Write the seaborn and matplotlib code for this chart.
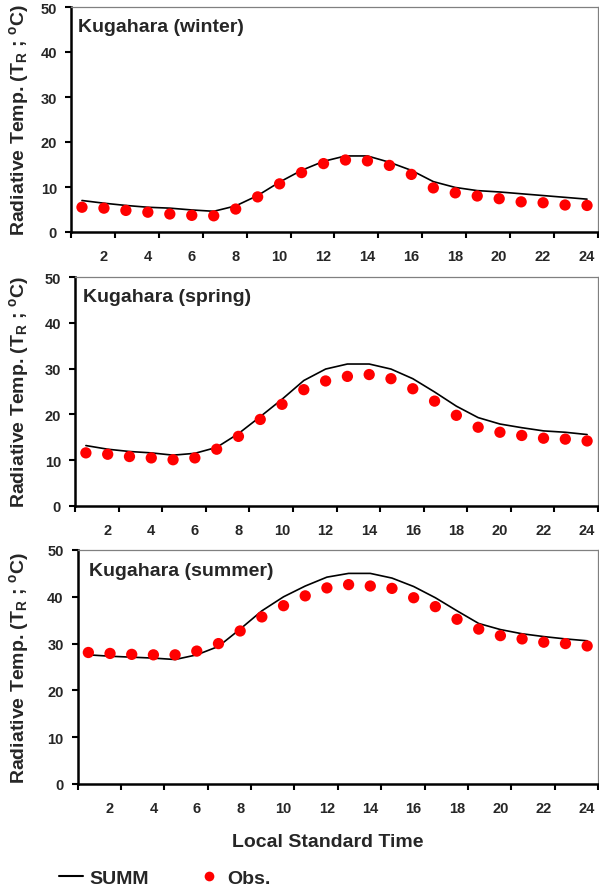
import numpy as np
import pandas as pd
import matplotlib
matplotlib.use("Agg")
import matplotlib.pyplot as plt
import matplotlib.transforms as mtransforms
from matplotlib.lines import Line2D
import seaborn as sns

sns.set_style("white")
plt.rcParams['font.family'] = ['Liberation Sans', 'DejaVu Sans']
plt.rcParams['font.weight'] = 'bold'
plt.rcParams['mathtext.fontset'] = 'custom'
plt.rcParams['mathtext.rm'] = 'Liberation Sans:bold'
plt.rcParams['mathtext.it'] = 'Liberation Sans:bold'
plt.rcParams['mathtext.bf'] = 'Liberation Sans:bold'

hours = list(range(1, 25))

summ_winter = [7.0, 6.4, 5.9, 5.5, 5.3, 4.9, 4.6, 5.8, 8.1, 11.1, 13.7, 15.7,
               16.9, 16.9, 15.5, 13.7, 11.2, 9.9, 9.2, 8.9, 8.5, 8.1, 7.7, 7.3]
obs_winter = [5.5, 5.3, 4.8, 4.4, 4.0, 3.7, 3.6, 5.1, 7.8, 10.7, 13.2, 15.2,
              16.0, 15.8, 14.8, 12.8, 9.8, 8.7, 8.0, 7.4, 6.7, 6.5, 6.0, 5.9]

summ_spring = [13.2, 12.4, 11.9, 11.6, 11.1, 11.5, 12.8, 15.8, 19.5, 23.3, 27.4, 29.9,
               31.0, 31.0, 29.9, 27.8, 24.9, 21.8, 19.3, 17.9, 17.1, 16.4, 16.1, 15.6]
obs_spring = [11.6, 11.3, 10.8, 10.5, 10.1, 10.5, 12.4, 15.2, 18.9, 22.2, 25.4, 27.3,
              28.3, 28.7, 27.8, 25.6, 22.9, 19.8, 17.2, 16.1, 15.4, 14.8, 14.6, 14.2]

summ_summer = [27.6, 27.3, 27.1, 26.9, 26.6, 27.6, 29.4, 33.1, 37.0, 40.0, 42.3, 44.2,
               45.0, 45.0, 44.0, 42.2, 39.8, 37.0, 34.3, 33.0, 32.1, 31.5, 31.0, 30.6]
obs_summer = [28.1, 27.9, 27.7, 27.6, 27.6, 28.4, 30.0, 32.7, 35.7, 38.1, 40.2, 41.9,
              42.6, 42.3, 41.8, 39.8, 37.9, 35.2, 33.1, 31.7, 31.0, 30.3, 30.0, 29.5]

panel_titles = ["Kugahara (winter)", "Kugahara (spring)", "Kugahara (summer)"]
x_tick_labels = [str(h) for h in range(2, 25, 2)]
y_ticks = [0, 10, 20, 30, 40, 50]

W, H = 599, 895
fig = plt.figure(figsize=(W / 100, H / 100), dpi=100)

# pixel boxes: left, top, bottom
boxes = [(71, 8, 233), (75, 278, 507), (77.5, 551, 785)]
right_px = 598

series = [(summ_winter, obs_winter), (summ_spring, obs_spring), (summ_summer, obs_summer)]
title_pos = [(0.013, 0.915), (0.015, 0.917), (0.022, 0.914)]

axes = []
for i, ((l, t, b), (summ, obs)) in enumerate(zip(boxes, series)):
    ax = fig.add_axes([l / W, 1 - b / H, (right_px - l) / W, (b - t) / H])
    axes.append(ax)
    df = pd.DataFrame({"hour": hours, "SUMM": summ, "Obs": obs})
    sns.lineplot(data=df, x="hour", y="SUMM", ax=ax, color="black", lw=1.2, zorder=2)
    sns.scatterplot(data=df, x="hour", y="Obs", ax=ax, color="#ff0000", s=66,
                    edgecolor="none", linewidth=0, zorder=3)
    ax.set_xlim(0.5, 24.5)
    ax.set_ylim(0, 50)
    ax.set_yticks(y_ticks)
    ax.set_yticklabels([str(v) for v in y_ticks], fontsize=10.5, fontweight='bold')
    ax.set_xticks(list(range(2, 25, 2)))
    ax.set_xticklabels(x_tick_labels, fontsize=10.5, fontweight='bold')
    ax.set_xticks(np.arange(0.5, 25, 2), minor=True)
    ax.tick_params(axis='x', which='major', length=0, pad=12)
    ax.tick_params(axis='x', which='minor', length=4, width=1.5, direction='out',
                   color='black', bottom=True)
    ax.tick_params(axis='y', which='major', length=4, width=1.5, direction='out',
                   color='black', left=True, pad=6)
    ax.set_xlabel("")
    ax.set_ylabel("Radiative Temp. (T$_{\\mathrm{R}}$ ; $^{\\mathrm{o}}$C)",
                  fontsize=14, fontweight='bold')
    trans = mtransforms.blended_transform_factory(fig.transFigure, ax.transAxes)
    ax.yaxis.set_label_coords(31 / W, 0.5, transform=trans)
    for side in ['left', 'bottom']:
        ax.spines[side].set_color('black')
        ax.spines[side].set_linewidth(1.8)
    for side in ['top', 'right']:
        ax.spines[side].set_color('#808080')
        ax.spines[side].set_linewidth(0.9)
        ax.spines[side].set_visible(True)
    ax.text(title_pos[i][0], title_pos[i][1], panel_titles[i], transform=ax.transAxes,
            fontsize=14, fontweight='bold', ha='left', va='center')

fig.text(328 / W, 1 - 843 / H, "Local Standard Time", fontsize=14, fontweight='bold',
         ha='center', va='center')

handles = [Line2D([0], [0], color='black', lw=1.5),
           Line2D([0], [0], color='#ff0000', marker='o', ls='none', markersize=7,
                  markeredgewidth=0)]
fig.legend(handles, ["SUMM", "Obs."], loc='center left',
           bbox_to_anchor=(51 / W, 1 - 879 / H), ncol=2, frameon=False,
           prop={'size': 14, 'weight': 'bold'}, handlelength=1.25, handletextpad=0.3,
           columnspacing=2.5, borderaxespad=0)

fig.savefig("out.png", dpi=100)
